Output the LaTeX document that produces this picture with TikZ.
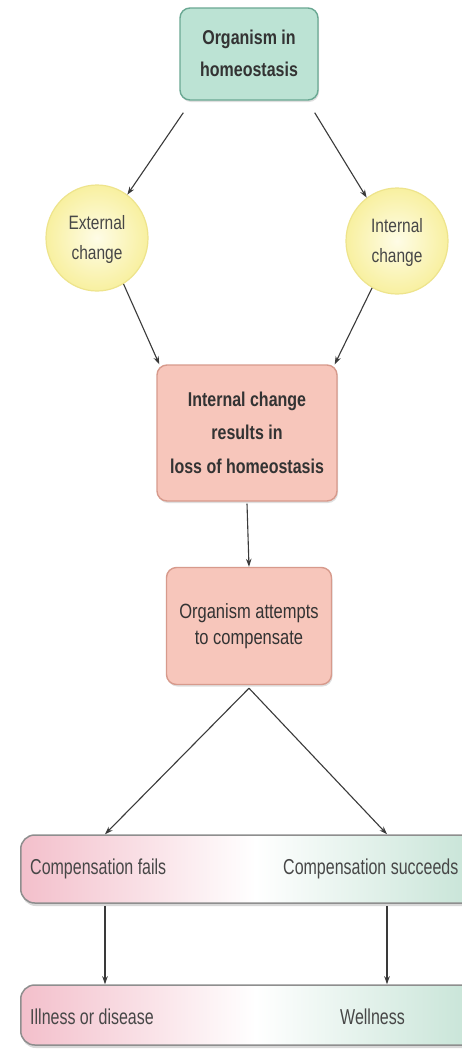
\documentclass[tikz,border=0pt]{standalone}
\usepackage{fontspec}
\setmainfont{Liberation Sans}
\usepackage{graphicx}
\usetikzlibrary{shapes.geometric,shadows,arrows.meta,calc}
\definecolor{tealL}{HTML}{BCE3D4}
\definecolor{tealD}{HTML}{6AA893}
\definecolor{yelO}{HTML}{F8F0A0}
\definecolor{yelI}{HTML}{FEFCE6}
\definecolor{yelD}{HTML}{EEE48C}
\definecolor{pinkL}{HTML}{F7C6BB}
\definecolor{pinkD}{HTML}{D79A8C}
\definecolor{barL}{HTML}{F3BFCB}
\definecolor{barR}{HTML}{C3E2D4}
\definecolor{barD}{HTML}{8E8E8E}
\definecolor{txt}{HTML}{333333}
\definecolor{arrC}{HTML}{3A3A3A}
\newcommand\vtx[2][1.25]{\scalebox{1}[#1]{\begin{tabular}{@{}c@{}}#2\end{tabular}}}
\begin{document}
\begin{tikzpicture}[x=1pt,y=-1pt,
  topbox/.style={rounded corners=10pt, draw=tealD, fill=tealL, line width=1.4pt,
    minimum width=138pt, minimum height=92pt, inner sep=0pt,
    font=\fontsize{16}{26}\selectfont\bfseries, text=txt,
    drop shadow={opacity=0.25, shadow xshift=1pt, shadow yshift=-2pt}},
  circ/.style={ellipse, inner color=yelI, outer color=yelO, draw=yelD, line width=1.2pt,
    minimum width=102pt, minimum height=106pt, inner sep=0pt,
    font=\fontsize{15.5}{24}\selectfont, text=black!72},
  pinkbox/.style={rounded corners=10pt, draw=pinkD, fill=pinkL, line width=1.4pt, inner sep=0pt,
    text=txt, drop shadow={opacity=0.25, shadow xshift=1pt, shadow yshift=-2pt}},
  bar/.style={rounded corners=14pt, draw=barD, line width=1.5pt,
    left color=barL, right color=barR, middle color=white, inner sep=0pt,
    drop shadow={opacity=0.3, shadow xshift=1pt, shadow yshift=-3pt}},
  bartext/.style={anchor=west, inner sep=0pt, font=\fontsize{16}{20}\selectfont, text=black!72},
  arr/.style={-{Stealth[length=8pt,width=5.5pt]}, draw=arrC, line width=1.1pt}
]
\useasboundingbox (0,0) rectangle (462,1050);
\clip (0,0) rectangle (462,1050);
\fill[white] (0,0) rectangle (462,1050);

\node[topbox] (top) at (249,54) {\vtx{Organism in\\homeostasis}};
\node[circ] (ext) at (97,238) {\vtx{External\\change}};
\node[circ] (int) at (397,241) {\vtx{Internal\\change}};
\node[pinkbox, minimum width=180pt, minimum height=136pt,
  font=\fontsize{16}{27}\selectfont\bfseries] (p1) at (247,433)
  {\vtx{Internal change\\results in\\loss of homeostasis}};
\node[pinkbox, minimum width=165pt, minimum height=117pt,
  font=\fontsize{16.5}{21}\selectfont] (p2) at (249,626)
  {\vtx{Organism attempts\\to compensate}};

\node[bar, minimum width=470pt, minimum height=68pt, anchor=west] (bar1) at (20,869) {};
\node[bar, minimum width=470pt, minimum height=60pt, anchor=west] (bar2) at (20,1015) {};

\node[bartext] (cf) at (30,869) {\scalebox{1}[1.35]{Compensation fails}};
\node[bartext] (cs) at (283,869) {\scalebox{1}[1.35]{Compensation succeeds}};
\node[bartext] (ill) at (30,1017) {\scalebox{1}[1.35]{Illness or disease}};
\node[bartext] (well) at (340,1017) {\scalebox{1}[1.35]{Wellness}};

\coordinate (f1) at ($(bar1.north west)+(85,0)$);
\coordinate (s1) at ($(bar1.north west)+(367,0)$);
\coordinate (f2) at ($(bar2.north west)+(85,0)$);
\coordinate (s2) at ($(bar2.north west)+(367,0)$);

\draw[arr] ([xshift=4pt,yshift=-12pt]top.south west) -- (ext.55);
\draw[arr] ([xshift=-4pt,yshift=-12pt]top.south east) -- (int.125);
\draw[arr] (ext.-60) -- ([xshift=3pt]p1.north west);
\draw[arr] (int.-118) -- ([xshift=-3pt]p1.north east);
\draw[arr] ([yshift=-2pt]p1.south) -- (p2.north);
\draw[arr] ([yshift=-3pt]p2.south) -- (f1);
\draw[arr] ([yshift=-3pt]p2.south) -- (s1);
\draw[arr] ([yshift=-2pt]f1 |- bar1.south) -- (f2);
\draw[arr] ([yshift=-2pt]s1 |- bar1.south) -- (s2);
\end{tikzpicture}
\end{document}
